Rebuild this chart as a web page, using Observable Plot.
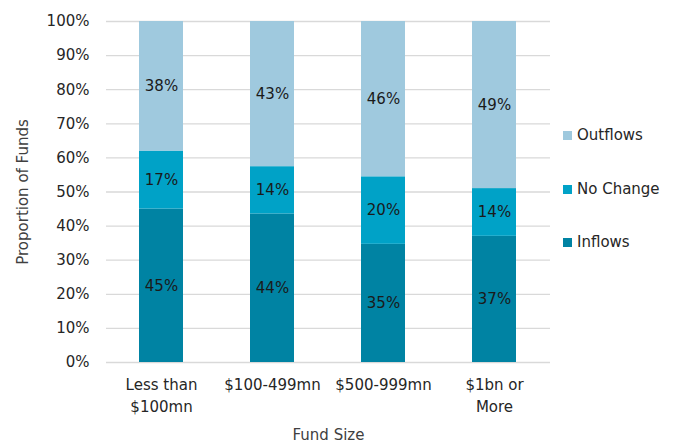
<!DOCTYPE html>
<html>
<head>
<meta charset="utf-8">
<script src="https://cdn.jsdelivr.net/npm/d3@7"></script>
<script src="https://cdn.jsdelivr.net/npm/@observablehq/plot@0.6"></script>
<style>
  html, body { margin: 0; padding: 0; background: #fff; }
  #wrap { position: relative; width: 691px; height: 444px; font-family: "Century Gothic", "DejaVu Sans", sans-serif; }
  #legend { position: absolute; left: 563px; top: 0; font-size: 15px; color: #262626; }
  .li { position: absolute; left: 0; white-space: nowrap; display: flex; align-items: center; }
  .sw { width: 9px; height: 9px; margin-right: 5px; display: inline-block; }
</style>
</head>
<body>
<div id="wrap"><div id="chart"></div><div id="legend"></div></div>
<script>
const categories = ["Less than\n$100mn", "$100-499mn", "$500-999mn", "$1bn or\nMore"];
const seriesNames = ["Inflows", "No Change", "Outflows"];
const inflows = [45, 44, 35, 37];
const noChange = [17, 14, 20, 14];
const outflows = [38, 43, 46, 49];
const colors = ["#0083a3", "#00a2c7", "#9fc9de"];

const seriesValues = [inflows, noChange, outflows];
const data = [];
seriesNames.forEach((s, si) => {
  categories.forEach((c, ci) => {
    data.push({category: c, series: s, value: seriesValues[si][ci]});
  });
});

const stackOpts = {x: "category", y: "value", z: "series", order: seriesNames, offset: "normalize"};

const chart = Plot.plot({
  width: 691,
  height: 444,
  marginLeft: 106,
  marginRight: 141,
  marginTop: 21,
  marginBottom: 82,
  style: {fontFamily: "'Century Gothic', 'DejaVu Sans', sans-serif", fontSize: "15px", color: "#262626", background: "#fff"},
  x: {domain: categories, paddingInner: 0.6, paddingOuter: 0.3, label: null},
  y: {domain: [0, 1], label: null},
  color: {domain: seriesNames, range: colors},
  marks: [
    Plot.gridY(d3.range(0, 1.01, 0.1), {stroke: "#d9d9d9", strokeOpacity: 1, strokeWidth: 1.3}),
    Plot.axisY(d3.range(0, 1.01, 0.1), {tickFormat: d => Math.round(d * 100) + "%", tickSize: 0, tickPadding: 17, fontSize: 15, label: null}),
    Plot.axisX({tickSize: 0, tickPadding: 12, fontSize: 15, label: null, lineHeight: 1.45}),
    Plot.barY(data, Plot.stackY({...stackOpts, fill: "series", inset: 0})),
    Plot.text(data, Plot.stackY({...stackOpts, text: d => d.value + "%", fill: "#1a1a1a", fontSize: 15})),
    Plot.text(["Proportion of Funds"], {frameAnchor: "left", textAnchor: "middle", dx: -83, rotate: -90, fill: "#404040", fontSize: 15}),
    Plot.text(["Fund Size"], {frameAnchor: "bottom", dy: 77, fill: "#404040", fontSize: 15})
  ]
});
document.getElementById("chart").appendChild(chart);

const legendTops = [135, 189, 242];
const legend = document.getElementById("legend");
[2, 1, 0].forEach((si, i) => {
  const div = document.createElement("div");
  div.className = "li";
  div.style.top = (legendTops[i] - 9) + "px";
  div.innerHTML = `<span class="sw" style="background:${colors[si]}"></span><span>${seriesNames[si]}</span>`;
  legend.appendChild(div);
});
</script>
</body>
</html>
